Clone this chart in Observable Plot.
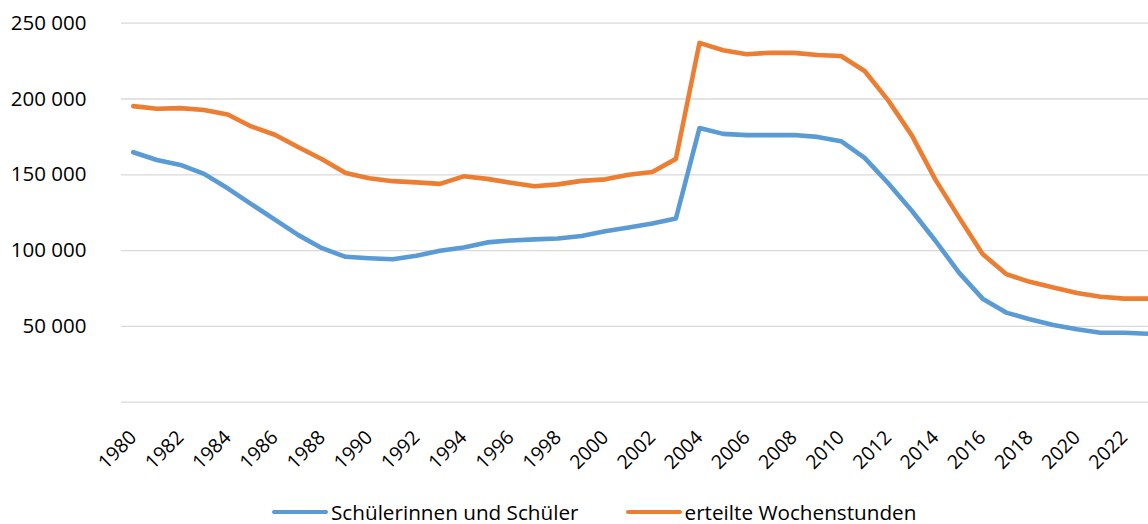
<!DOCTYPE html>
<html>
<head>
<meta charset="utf-8">
<script src="https://cdn.jsdelivr.net/npm/d3@7"></script>
<script src="https://cdn.jsdelivr.net/npm/@observablehq/plot@0.6"></script>
<style>
  html, body { margin: 0; padding: 0; background: #fff; }
  body { position: relative; width: 1148px; height: 524px; overflow: hidden; font-family: "Open Sans", sans-serif; }
  #legend { position: absolute; left: 272px; top: 498px; display: flex; align-items: center; font-size: 20.7px; color: #000; white-space: nowrap; }
  .item { display: flex; align-items: center; }
  .sw { width: 56px; height: 4.7px; border-radius: 3px; margin-right: 3px; }
  .item + .item { margin-left: 47px; }
</style>
</head>
<body>
<div id="chart"></div>
<div id="legend"></div>
<script>
const years = [1980,1981,1982,1983,1984,1985,1986,1987,1988,1989,1990,1991,1992,1993,1994,1995,1996,1997,1998,1999,2000,2001,2002,2003,2004,2005,2006,2007,2008,2009,2010,2011,2012,2013,2014,2015,2016,2017,2018,2019,2020,2021,2022,2023];
const schueler = [164900,159800,156500,150600,141100,130700,120400,110200,101600,95900,95000,94300,96600,99900,102100,105400,106700,107400,108000,109600,112700,115300,117900,121200,180800,177000,176200,176200,176200,175000,172200,161200,144400,126300,106500,85500,68300,59100,54700,50900,48100,45800,45800,45200];
const wochenstunden = [195300,193600,194000,192700,189800,181900,176400,168200,160300,151200,147700,145800,145000,144000,149000,147300,144800,142400,143700,146000,147000,150000,151900,160500,237000,232200,229500,230500,230400,229000,228400,218500,199100,176000,146800,121900,97700,84500,79400,75600,72100,69600,68300,68300];
const seriesNames = ["Schülerinnen und Schüler", "erteilte Wochenstunden"];
const colors = ["#5B9BD5", "#ED7D31"];
const yTicks = [0, 50000, 100000, 150000, 200000, 250000];
const xTicks = [1980,1982,1984,1986,1988,1990,1992,1994,1996,1998,2000,2002,2004,2006,2008,2010,2012,2014,2016,2018,2020,2022];

const data = [];
years.forEach((y, i) => {
  data.push({year: y, value: schueler[i], series: seriesNames[0]});
  data.push({year: y, value: wochenstunden[i], series: seriesNames[1]});
});

const fmt = d3.formatLocale({decimal: ",", thousands: " ", grouping: [3], currency: ["", " €"]}).format(",d");

const chart = Plot.plot({
  width: 1148,
  height: 490,
  marginLeft: 121,
  marginRight: 0,
  marginTop: 22.7,
  marginBottom: 88.3,
  style: {fontFamily: "Open Sans, sans-serif", color: "#000", background: "#fff"},
  x: {type: "linear", domain: [1979.5, 2023.5], range: [121, 1159]},
  y: {domain: [0, 250000]},
  color: {domain: seriesNames, range: colors},
  marks: [
    Plot.ruleY(yTicks, {stroke: "#d9d9d9", strokeWidth: 1.3}),
    Plot.axisY(yTicks.filter(d => d > 0), {tickSize: 0, tickPadding: 35, tickFormat: fmt, fontSize: 20.5, label: null}),
    Plot.axisX(xTicks, {tickSize: 0, tickPadding: 32, tickRotate: -45, tickFormat: d => String(d), fontSize: 19.5, label: null}),
    Plot.line(data, {x: "year", y: "value", z: "series", stroke: "series", strokeWidth: 4.6, strokeLinejoin: "round", strokeLinecap: "round"})
  ]
});
document.getElementById("chart").appendChild(chart);

const legend = document.getElementById("legend");
seriesNames.forEach((name, i) => {
  const item = document.createElement("div");
  item.className = "item";
  const sw = document.createElement("div");
  sw.className = "sw";
  sw.style.background = colors[i];
  const t = document.createElement("span");
  t.textContent = name;
  item.appendChild(sw);
  item.appendChild(t);
  legend.appendChild(item);
});
</script>
</body>
</html>
